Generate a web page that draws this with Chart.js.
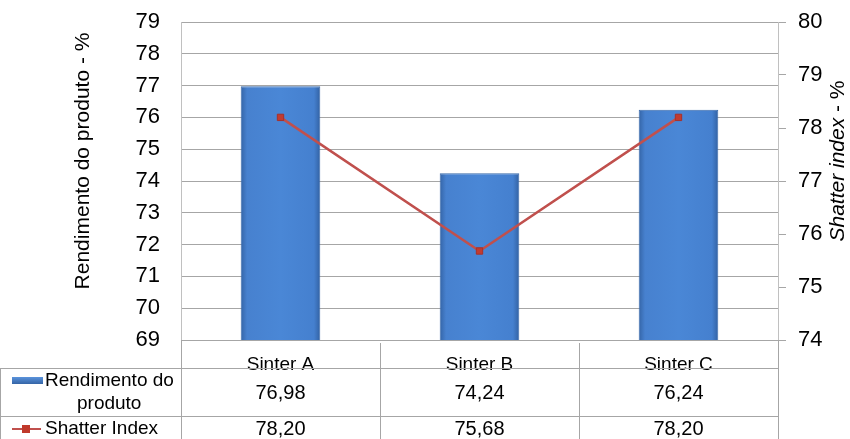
<!DOCTYPE html>
<html>
<head>
<meta charset="utf-8">
<script src="https://cdn.jsdelivr.net/npm/chart.js@4.4.0/dist/chart.umd.min.js"></script>
<style>
  html, body { margin: 0; padding: 0; background: #fff; }
  #wrap { width: 850px; height: 439px; }
</style>
</head>
<body>
<div id="wrap"><canvas id="chart" width="850" height="439"></canvas></div>
<script>
// dados do gráfico
const categorias = ['Sinter A', 'Sinter B', 'Sinter C'];
const rendimento = [76.98, 74.24, 76.24];
const shatter = [78.20, 75.68, 78.20];
const rotuloRendimento = ['Rendimento do', 'produto'];
const rotuloShatter = 'Shatter Index';

const FONTE = '"Liberation Sans", Arial, sans-serif';

function formata(v) {
    // vírgula decimal, como no original
    return v.toFixed(2).replace('.', ',');
}

// gradiente horizontal de cada barra
function corBarra(ctx) {
    const chart = ctx.chart;
    const x = chart.scales.x;
    if (!x || ctx.dataIndex === undefined) return '#4178c4';
    const passo = (x.right - x.left) / categorias.length;
    const meio = x.getPixelForValue(ctx.dataIndex);
    const larg = passo * 0.4;
    if (!isFinite(meio) || !isFinite(larg) || larg <= 0) return '#4178c4';
    const g = chart.ctx.createLinearGradient(meio - larg / 2, 0, meio + larg / 2, 0);
    g.addColorStop(0, '#3464a6');
    g.addColorStop(0.08, '#4781cf');
    g.addColorStop(0.5, '#4a87d6');
    g.addColorStop(0.92, '#4580cf');
    g.addColorStop(1, '#3261a2');
    return g;
}

// tabela de dados, títulos dos eixos e legenda
const tabelaPlugin = {
    id: 'tabela',
    afterDraw(chart) {
        const c = chart.ctx;
        const x = chart.scales.x;
        const area = chart.chartArea;
        const passo = (x.right - x.left) / categorias.length;
        const linha1 = 368, linha2 = 416, fim = 439;

        c.save();
        c.strokeStyle = '#a6a6a6';
        c.lineWidth = 1;
        c.beginPath();
        c.moveTo(0, linha1 + 0.5); c.lineTo(area.right, linha1 + 0.5);
        c.moveTo(0, linha2 + 0.5); c.lineTo(area.right, linha2 + 0.5);
        c.moveTo(0.5, linha1); c.lineTo(0.5, fim);
        c.moveTo(Math.round(area.left) + 0.5, area.bottom); c.lineTo(Math.round(area.left) + 0.5, fim);
        c.moveTo(Math.round(area.right) + 0.5, area.bottom); c.lineTo(Math.round(area.right) + 0.5, fim);
        for (let k = 1; k < categorias.length; k++) {
            const xx = Math.round(x.left + k * passo) + 0.5;
            c.moveTo(xx, area.bottom + 3); c.lineTo(xx, fim);
        }
        c.stroke();

        // valores
        c.fillStyle = '#000';
        c.font = '20px ' + FONTE;
        c.textAlign = 'center';
        c.textBaseline = 'middle';
        for (let i = 0; i < categorias.length; i++) {
            const xx = x.getPixelForValue(i);
            c.fillText(formata(rendimento[i]), xx, 393);
            c.fillText(formata(shatter[i]), xx, 429);
        }

        // legenda na tabela
        const g = c.createLinearGradient(0, 377, 0, 385);
        g.addColorStop(0, '#5a93dc');
        g.addColorStop(1, '#2f5e9e');
        c.fillStyle = g;
        c.fillRect(12, 377, 31, 7);
        c.fillStyle = '#000';
        c.textAlign = 'left';
        c.font = '19px ' + FONTE;
        c.fillText(rotuloRendimento[0], 45, 381);
        c.fillText(rotuloRendimento[1], 77, 404);

        c.strokeStyle = '#c0504d';
        c.lineWidth = 2;
        c.beginPath(); c.moveTo(12, 429); c.lineTo(41, 429); c.stroke();
        c.fillStyle = '#c0392b';
        c.fillRect(22, 425, 8, 8);
        c.fillStyle = '#000';
        c.fillText(rotuloShatter, 45, 429);

        // título eixo esquerdo
        c.font = '21px ' + FONTE;
        c.textAlign = 'center';
        c.save();
        c.translate(83, 161);
        c.rotate(-Math.PI / 2);
        c.fillText('Rendimento do produto - %', 0, 0);
        c.restore();

        // título eixo direito ("Shatter index" em itálico)
        c.save();
        c.translate(838, 161);
        c.rotate(-Math.PI / 2);
        c.font = 'italic 21px ' + FONTE;
        const t1 = 'Shatter index';
        const w1 = c.measureText(t1).width;
        c.font = '21px ' + FONTE;
        const t2 = ' - %';
        const w2 = c.measureText(t2).width;
        c.textAlign = 'left';
        c.font = 'italic 21px ' + FONTE;
        c.fillText(t1, -(w1 + w2) / 2, 0);
        c.font = '21px ' + FONTE;
        c.fillText(t2, -(w1 + w2) / 2 + w1, 0);
        c.restore();
        c.restore();
    }
};

new Chart(document.getElementById('chart'), {
    type: 'bar',
    data: {
        labels: categorias,
        datasets: [
            {
                type: 'line',
                label: rotuloShatter,
                data: shatter,
                yAxisID: 'y2',
                borderColor: '#c0504d',
                borderWidth: 2.5,
                pointStyle: 'rect',
                pointRadius: 4.5,
                pointBackgroundColor: '#c23b30',
                pointBorderColor: '#a8302a',
                pointBorderWidth: 1,
                tension: 0,
                order: 0
            },
            {
                label: rotuloRendimento.join(' '),
                data: rendimento,
                yAxisID: 'y',
                backgroundColor: corBarra,
                borderColor: '#3a6aab',
                borderWidth: 1,
                categoryPercentage: 1,
                barPercentage: 0.4,
                order: 1
            }
        ]
    },
    options: {
        responsive: false,
        animation: false,
        layout: { padding: { top: 22, left: 0, right: 0, bottom: 0 } },
        plugins: {
            legend: { display: false },
            tooltip: { enabled: false }
        },
        scales: {
            x: {
                grid: { display: false },
                border: { display: false },
                ticks: { color: '#000', font: { family: FONTE, size: 19 }, padding: 5, maxRotation: 0 },
                afterFit(scale) { scale.height = 99; scale.paddingLeft = 0; scale.paddingRight = 0; }
            },
            y: {
                position: 'left',
                min: 69,
                max: 79,
                ticks: { stepSize: 1, color: '#000', font: { family: FONTE, size: 22 }, padding: 21 },
                grid: { color: '#a6a6a6', drawTicks: false },
                border: { color: '#c0c0c0' },
                afterFit(scale) { scale.width = 181; scale.paddingTop = 0; scale.paddingBottom = 0; }
            },
            y2: {
                position: 'right',
                min: 74,
                max: 80,
                ticks: { stepSize: 1, color: '#000', font: { family: FONTE, size: 22 }, padding: 12 },
                grid: { drawOnChartArea: false, color: '#a6a6a6', tickLength: 8 },
                border: { color: '#c0c0c0' },
                afterFit(scale) { scale.width = 72; scale.paddingTop = 0; scale.paddingBottom = 0; }
            }
        }
    },
    plugins: [tabelaPlugin]
});
</script>
</body>
</html>
